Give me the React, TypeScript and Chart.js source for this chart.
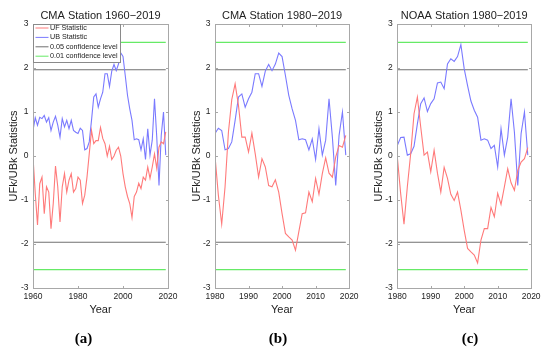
import React, { useEffect, useRef } from "react";
import { Chart, registerables } from "chart.js";

Chart.register(...registerables);

// ---------- data ----------
const START_CMA_1960 = 1960;
const START_1980 = 1980;

const UF_CMA_1960 = [
  -0.02, -0.85, -1.57, -0.63, -0.48, -1.31, -0.7, -0.82, -1.65, -1.08,
  -0.23, -0.7, -1.5, -0.7, -0.4, -0.82, -0.55, -0.4, -0.82, -0.74,
  -0.48, -0.55, -1.08, -0.89, -0.48, 0.05, 0.58, 0.28, 0.35, 0.35,
  0.65, 0.4, 0.28, 0.0, 0.22, -0.08, 0.0, 0.13, 0.2, 0.0,
  -0.4, -0.7, -0.92, -1.08, -1.4, -0.92, -0.82, -0.62, -0.74, -0.48,
  -0.55, -0.25, -0.51, -0.25, 0.05, -0.28, 0.2, 0.32, 0.28, 0.55,
];
const UB_CMA_1960 = [
  0.58, 0.87, 0.7, 0.88, 0.85, 0.92, 0.77, 0.87, 0.58, 0.77,
  0.9, 0.7, 0.43, 0.85, 0.66, 0.81, 0.62, 0.81, 0.58, 0.54,
  0.51, 0.63, 0.58, 0.14, 0.17, 0.32, 0.81, 1.34, 1.41, 1.11,
  1.3, 1.45, 1.87, 1.87, 1.58, 1.93, 2.08, 1.94, 2.09, 2.34,
  2.26, 1.83, 1.38, 1.07, 0.81, 0.37, 0.39, 0.37, 0.14, 0.39,
  -0.08, 0.62, 0.02, 0.36, 1.3, 0.43, -0.67, 0.47, 1.0, 0.02,
];
const UF_CMA_1980 = [
  0.0, -0.89, -1.55, -0.7, 0.54, 1.28, 1.64, 1.15, 0.43, 0.43,
  0.09, 0.52, 0.05, -0.48, -0.06, -0.25, -0.67, -0.7, -0.54, -0.82,
  -1.31, -1.76, -1.84, -1.91, -2.14, -1.72, -1.31, -1.29, -0.82, -1.04,
  -0.51, -0.87, -0.4, -0.04, -0.39, -0.48, -0.02, 0.24, 0.2, 0.47,
];
const UB_CMA_1980 = [
  0.51, 0.63, 0.58, 0.14, 0.17, 0.32, 0.81, 1.34, 1.41, 1.11,
  1.3, 1.45, 1.87, 1.87, 1.58, 1.93, 2.08, 1.94, 2.09, 2.34,
  2.26, 1.83, 1.38, 1.07, 0.81, 0.37, 0.39, 0.37, 0.14, 0.39,
  -0.08, 0.62, 0.02, 0.36, 1.3, 0.43, -0.67, 0.47, 1.0, 0.02,
];
const UF_NOAA_1980 = [
  -0.02, -0.85, -1.55, -0.7, 0.05, 0.96, 1.34, 0.66, 0.02, 0.09,
  -0.36, 0.13, -0.39, -0.82, -0.26, -0.51, -0.87, -1.01, -0.82, -1.23,
  -1.69, -2.1, -2.18, -2.25, -2.43, -1.91, -1.65, -1.65, -1.17, -1.38,
  -0.85, -1.1, -0.7, -0.29, -0.61, -0.78, -0.33, -0.14, -0.06, 0.19,
];
const UB_NOAA_1980 = [
  0.24, 0.42, 0.43, 0.02, 0.05, 0.22, 0.73, 1.19, 1.32, 1.01,
  1.19, 1.3, 1.66, 1.68, 1.53, 2.09, 2.21, 2.15, 2.26, 2.53,
  1.98, 1.6, 1.25, 1.04, 0.88, 0.36, 0.39, 0.36, 0.17, 0.24,
  -0.25, 0.62, 0.02, 0.43, 1.3, 0.54, -0.67, 0.51, 1.0, 0.02,
];

const CONF_05 = 1.96;
const CONF_01 = 2.58;

const TITLES = ["CMA Station 1960\u22122019", "CMA Station 1980\u22122019", "NOAA Station 1980\u22122019"];
const PANEL_LETTERS = ["a", "b", "c"];
const LEGEND_LABELS = ["UF Statistic", "UB Statistic", "0.05 confidence level", "0.01 confidence level"];
const X_LABEL = "Year";
const Y_LABEL = "UFk/UBk Statistics";
const X_RANGES = [
  { min: 1960, max: 2020, step: 20 },
  { min: 1980, max: 2020, step: 10 },
  { min: 1980, max: 2020, step: 10 },
];
const Y_RANGE = { min: -3, max: 3, step: 1 };

// ---------- styles ----------
const FONT = "'Liberation Sans', Arial, Helvetica, sans-serif";
const RED = "#ff7a7a";
const BLUE = "#7a7aff";
const GREY = "#707070";
const GREEN = "#66ea66";
const FRAME = "#a8a8a8";
const TEXT = "#222222";

const PANELS = [
  { left: 0, yWidth: 33, padRight: 14, yTitlePad: 7.8, start: START_CMA_1960, uf: UF_CMA_1960, ub: UB_CMA_1960, legend: true, letterX: 83.5 },
  { left: 180, yWidth: 35, padRight: 11, yTitlePad: 10.8, start: START_1980, uf: UF_CMA_1980, ub: UB_CMA_1980, legend: false, letterX: 278 },
  { left: 362, yWidth: 35.3, padRight: 11.3, yTitlePad: 10.4, start: START_1980, uf: UF_NOAA_1980, ub: UB_NOAA_1980, legend: false, letterX: 470 },
];

const toPoints = (start: number, vals: number[]) => vals.map((v, i) => ({ x: start + i, y: v }));
const hLine = (start: number, n: number, v: number) => [
  { x: start, y: v },
  { x: start + n - 1, y: v },
];

const TICK_LEN = 2.5;

const framePlugin = {
  id: "matlabFrame",
  afterDatasetsDraw(chart: any) {
    const { ctx, chartArea: a, scales } = chart;
    ctx.save();
    ctx.strokeStyle = FRAME;
    ctx.lineWidth = 1;
    const l = Math.round(a.left) + 0.5;
    const t = Math.round(a.top) + 0.5;
    const r = Math.round(a.right) + 0.5;
    const b = Math.round(a.bottom) + 0.5;
    ctx.strokeRect(l, t, r - l, b - t);
    ctx.beginPath();
    scales.x.ticks.forEach((tk: any) => {
      const px = Math.round(scales.x.getPixelForValue(tk.value)) + 0.5;
      ctx.moveTo(px, b);
      ctx.lineTo(px, b - TICK_LEN);
      ctx.moveTo(px, t);
      ctx.lineTo(px, t + TICK_LEN);
    });
    scales.y.ticks.forEach((tk: any) => {
      const py = Math.round(scales.y.getPixelForValue(tk.value)) + 0.5;
      ctx.moveTo(l, py);
      ctx.lineTo(l + TICK_LEN, py);
      ctx.moveTo(r, py);
      ctx.lineTo(r - TICK_LEN, py);
    });
    ctx.stroke();
    ctx.restore();
  },
};

const boxLegendPlugin = {
  id: "boxLegend",
  afterDraw(chart: any) {
    const { ctx, chartArea: a } = chart;
    const items = chart.data.datasets.filter((d: any) => d.legendLabel);
    const x0 = Math.round(a.left) + 0.5;
    const y0 = Math.round(a.top) + 0.5;
    const w = 87;
    const h = 38;
    ctx.save();
    ctx.fillStyle = "#ffffff";
    ctx.fillRect(x0, y0, w, h);
    ctx.strokeStyle = "#8a8a8a";
    ctx.lineWidth = 1;
    ctx.strokeRect(x0, y0, w, h);
    ctx.font = `7.2px ${FONT}`;
    ctx.textBaseline = "middle";
    ctx.textAlign = "left";
    items.forEach((d: any, i: number) => {
      const y = y0 + 3.5 + i * 9.4;
      ctx.strokeStyle = d.borderColor;
      ctx.beginPath();
      ctx.moveTo(x0 + 2, y);
      ctx.lineTo(x0 + 15, y);
      ctx.stroke();
      ctx.fillStyle = TEXT;
      ctx.fillText(d.legendLabel, x0 + 16.5, y);
    });
    ctx.restore();
  },
};

function Panel({ idx }: { idx: number }) {
  const ref = useRef<HTMLCanvasElement | null>(null);
  const p = PANELS[idx];
  const xr = X_RANGES[idx];

  useEffect(() => {
    if (!ref.current) return;
    const n = p.uf.length;
    const lineDs = (data: any, color: string, width: number, label?: string) => ({
      data,
      borderColor: color,
      backgroundColor: color,
      borderWidth: width,
      pointRadius: 0,
      tension: 0,
      fill: false,
      legendLabel: p.legend ? label : undefined,
    });
    const chart = new Chart(ref.current, {
      type: "line",
      data: {
        datasets: [
          lineDs(toPoints(p.start, p.uf), RED, 1.1, LEGEND_LABELS[0]),
          lineDs(toPoints(p.start, p.ub), BLUE, 1.1, LEGEND_LABELS[1]),
          lineDs(hLine(p.start, n, CONF_05), GREY, 1.1, LEGEND_LABELS[2]),
          lineDs(hLine(p.start, n, -CONF_05), GREY, 1.1),
          lineDs(hLine(p.start, n, CONF_01), GREEN, 1.25, LEGEND_LABELS[3]),
          lineDs(hLine(p.start, n, -CONF_01), GREEN, 1.25),
        ] as any,
      },
      options: {
        responsive: false,
        animation: false,
        layout: { padding: { left: 0, right: p.padRight, top: 0, bottom: 33.4 } },
        plugins: {
          legend: { display: false },
          tooltip: { enabled: false },
          title: {
            display: true,
            fullSize: false,
            text: TITLES[idx],
            color: TEXT,
            font: { family: FONT, size: 11, weight: "normal" as any, lineHeight: 1.2 },
            padding: { top: 8.9, bottom: 1.9 },
          },
        },
        scales: {
          x: {
            type: "linear",
            min: xr.min,
            max: xr.max,
            grid: { display: false, drawTicks: false },
            border: { display: false },
            ticks: {
              stepSize: xr.step,
              padding: 3.4,
              color: TEXT,
              font: { family: FONT, size: 8.5, lineHeight: 1.2 },
              maxRotation: 0,
              callback: (v: any) => String(v),
            },
            title: {
              display: true,
              text: X_LABEL,
              color: TEXT,
              font: { family: FONT, size: 11, lineHeight: 1.2 },
              padding: { top: 0, bottom: 0 },
            },
            afterFit: (s: any) => {
              s.height = 28.6;
            },
          },
          y: {
            min: Y_RANGE.min,
            max: Y_RANGE.max,
            grid: { display: false, drawTicks: false },
            border: { display: false },
            ticks: {
              stepSize: Y_RANGE.step,
              padding: 4.5,
              color: TEXT,
              font: { family: FONT, size: 8.5, lineHeight: 1.2 },
            },
            title: {
              display: true,
              text: Y_LABEL,
              color: TEXT,
              font: { family: FONT, size: 11, lineHeight: 1.2 },
              padding: { top: p.yTitlePad, bottom: 0 },
            },
            afterFit: (s: any) => {
              s.width = p.yWidth;
            },
          },
        },
      },
      plugins: p.legend ? [framePlugin, boxLegendPlugin] : [framePlugin],
    } as any);
    return () => chart.destroy();
  }, [idx]);

  return (
    <>
      <canvas
        ref={ref}
        width={182}
        height={350}
        style={{ position: "absolute", left: p.left, top: 0, width: 182, height: 350 }}
      />
      <div
        style={{
          position: "absolute",
          left: p.letterX - 20,
          width: 40,
          top: 329,
          height: 18,
          lineHeight: "18px",
          textAlign: "center",
          fontFamily: "'Liberation Serif', 'DejaVu Serif', serif",
          fontWeight: "bold",
          fontSize: 15,
          color: "#000",
        }}
      >
        ({PANEL_LETTERS[idx]})
      </div>
    </>
  );
}

export default function App() {
  return (
    <div
      style={{
        position: "absolute",
        left: 0,
        top: 0,
        width: 550,
        height: 350,
        background: "#ffffff",
        overflow: "hidden",
      }}
    >
      {PANELS.map((_, i) => (
        <Panel key={i} idx={i} />
      ))}
    </div>
  );
}
